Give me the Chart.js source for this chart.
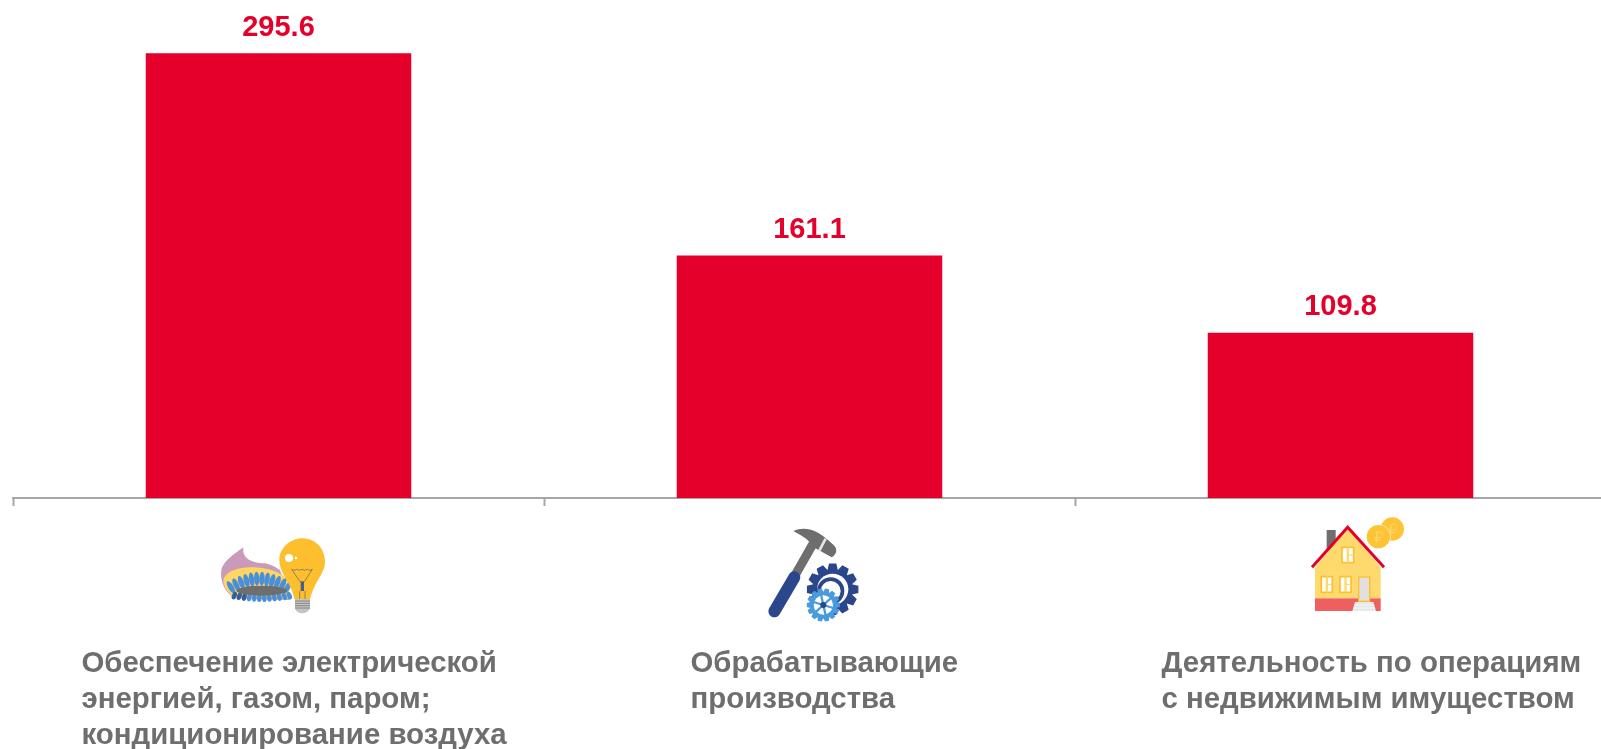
<!DOCTYPE html>
<html lang="ru">
<head>
<meta charset="utf-8">
<title>Chart</title>
<script src="https://cdn.jsdelivr.net/npm/chart.js@4"></script>
<style>
    html, body { margin: 0; padding: 0; background: #fff; overflow: hidden; }
    canvas { display: block; }
</style>
</head>
<body>
<canvas id="barChart" width="1620" height="749"></canvas>
<script>
// Chart data
const categories = [
    ['Обеспечение электрической', 'энергией, газом, паром;', 'кондиционирование воздуха'],
    ['Обрабатывающие', 'производства'],
    ['Деятельность по операциям', 'с недвижимым имуществом']
];
const values = [295.6, 161.1, 109.8];

const RED = '#E4002B';
const TEXT_GRAY = '#6E6E6E';
const AXIS_GRAY = '#A6A6A6';
const FONT = '"Liberation Sans", Arial, sans-serif';

// Left edge of each label block, relative to the centre of its band
const labelOffsets = [-197, -119, -179];

// Helpers for the icons
function fillPath(ctx, color, d) {
    ctx.fillStyle = color;
    ctx.fill(new Path2D(d));
}

function strokeLine(ctx, color, width, x1, y1, x2, y2) {
    ctx.strokeStyle = color;
    ctx.lineWidth = width;
    ctx.beginPath();
    ctx.moveTo(x1, y1);
    ctx.lineTo(x2, y2);
    ctx.stroke();
}

function fillEllipse(ctx, color, x, y, rx, ry, rot = 0) {
    ctx.fillStyle = color;
    ctx.beginPath();
    ctx.ellipse(x, y, rx, ry, rot, 0, Math.PI * 2);
    ctx.fill();
}

function drawGear(ctx, color, x, y, outer, inner, teeth) {
    ctx.fillStyle = color;
    ctx.beginPath();
    const step = Math.PI * 2 / teeth;
    for (let i = 0; i < teeth; i++) {
        const a = i * step;
        [[-0.5, inner], [-0.27, outer], [0.27, outer], [0.5, inner]].forEach(([k, r]) => {
            ctx.lineTo(x + Math.cos(a + k * step) * r, y + Math.sin(a + k * step) * r);
        });
    }
    ctx.closePath();
    ctx.fill();
}

// Gas burner and light bulb
function drawEnergyIcon(ctx) {
    fillPath(ctx, '#C99BB9', 'M85 52 C80 85 110 100 150 100 C175 105 185 115 195 120 L225 210 L60 205 C30 190 12 150 20 115 C30 90 60 70 85 52 Z');
    fillPath(ctx, '#FDD663', 'M25 150 C30 125 70 110 120 112 C160 115 195 125 220 150 L225 205 L60 205 C40 190 25 170 25 150 Z');
    // top row of flames
    for (let i = 0; i < 12; i++) {
        const t = i / 11;
        const px = 48 + t * 170;
        const py = 172 - Math.sin(t * Math.PI) * 26;
        fillEllipse(ctx, '#4A90D9', px, py, 8, 21, (t - 0.5) * 1.1);
    }
    // bottom row of flames
    for (let i = 0; i < 12; i++) {
        const t = i / 11;
        const px = 58 + t * 165;
        fillEllipse(ctx, i < 3 ? '#2F5F9F' : '#4A90D9', px, 197 + Math.sin(t * Math.PI) * 7, 7, 12, (0.5 - t) * 0.8);
    }
    fillEllipse(ctx, '#6E6E6E', 140, 182, 76, 15);
    fillPath(ctx, '#FDBF2D', 'M262 25 C300 25 330 55 330 95 C330 130 300 150 285 207 L238 207 C228 155 193 130 193 90 C193 55 225 25 262 25 Z');
    fillEllipse(ctx, '#FFFFFF', 222, 84, 12, 12);
    fillEllipse(ctx, '#FFFFFF', 243, 84, 4, 4);
    ctx.lineWidth = 2;
    ctx.strokeStyle = '#5F6470';
    ctx.stroke(new Path2D('M230 118 Q238 124 245 118 Q253 124 261 118 Q269 124 277 118 Q285 124 292 118 L268 155 L255 155 Z'));
    strokeLine(ctx, '#4A5C8C', 10, 262, 155, 262, 183);
    strokeLine(ctx, '#5F6470', 2, 254, 183, 254, 207);
    strokeLine(ctx, '#5F6470', 2, 270, 183, 270, 207);
    fillPath(ctx, '#C4C4C4', 'M240 207 L285 207 L285 235 C278 255 245 255 240 235 Z');
    for (let y = 213; y < 240; y += 7) {
        strokeLine(ctx, '#7A7A7A', 2.5, 240, y, 285, y);
    }
}

// Hammer and two gears
function drawIndustryIcon(ctx) {
    ctx.lineCap = 'butt';
    strokeLine(ctx, '#6E6E6E', 27, 400, 295, 460, 190);
    ctx.lineCap = 'round';
    strokeLine(ctx, '#2B478B', 36, 403, 292, 343, 394);
    ctx.lineCap = 'butt';
    fillPath(ctx, '#6E6E6E', 'M400 153 C440 135 480 155 515 190 C535 205 532 222 515 232 L458 200 C445 175 420 165 400 153 Z');
    strokeLine(ctx, '#E6E6E6', 8, 497, 176, 478, 212);
    drawGear(ctx, '#2B478B', 518, 328, 78, 60, 12);
    fillEllipse(ctx, '#FFFFFF', 518, 328, 47, 47);
    fillEllipse(ctx, '#2B478B', 512, 333, 41, 41);
    fillEllipse(ctx, '#FFFFFF', 512, 333, 30, 30);
    drawGear(ctx, '#4A9BDC', 490, 375, 50, 40, 14);
    fillEllipse(ctx, '#FFFFFF', 490, 375, 29, 29);
    for (let i = 0; i < 6; i++) {
        const a = i * Math.PI / 3 + 0.3;
        strokeLine(ctx, '#4A9BDC', 7, 490, 375, 490 + Math.cos(a) * 33, 375 + Math.sin(a) * 33);
    }
    fillEllipse(ctx, '#2B478B', 490, 375, 9, 9);
}

function drawWindow(ctx, x, y, w, h) {
    ctx.fillStyle = '#FFFFFF';
    ctx.strokeStyle = '#FDBF2D';
    ctx.lineWidth = 5;
    ctx.fillRect(x, y, w, h);
    ctx.strokeRect(x, y, w, h);
    strokeLine(ctx, '#FDD96E', 7, x + w / 2, y, x + w / 2, y + h);
    strokeLine(ctx, '#FDD96E', 4, x + w / 2, y + h / 2, x + w, y + h / 2);
}

function drawCoin(ctx, x, y) {
    fillEllipse(ctx, '#FDC436', x, y, 35, 35);
    ctx.strokeStyle = '#FDD96E';
    ctx.lineWidth = 3;
    ctx.stroke(new Path2D(`M${x - 5} ${y + 18} L${x - 5} ${y - 14} L${x + 6} ${y - 14} C${x + 16} ${y - 14} ${x + 16} ${y + 3} ${x + 6} ${y + 3} L${x - 12} ${y + 3} M${x - 12} ${y + 10} L${x + 6} ${y + 10}`));
}

// House and coins
function drawRealtyIcon(ctx) {
    ctx.fillStyle = '#6E6E6E';
    ctx.fillRect(560, 150, 27, 60);
    fillPath(ctx, '#FDD96E', 'M623 145 L722 262 L722 355 L525 355 L525 262 Z');
    ctx.fillStyle = '#EE6060';
    ctx.fillRect(525, 355, 197, 38);
    ctx.strokeStyle = RED;
    ctx.lineWidth = 9;
    ctx.stroke(new Path2D('M516 262 L623 142 L732 262'));
    drawWindow(ctx, 606, 202, 35, 46);
    drawWindow(ctx, 544, 290, 33, 47);
    drawWindow(ctx, 600, 290, 33, 47);
    ctx.fillStyle = '#E0E0E0';
    ctx.strokeStyle = '#FDBF2D';
    ctx.lineWidth = 4;
    ctx.fillRect(656, 291, 33, 73);
    ctx.strokeRect(656, 291, 33, 73);
    fillPath(ctx, '#E8E8E8', 'M645 366 L700 366 L708 393 L637 393 Z');
    strokeLine(ctx, '#FFFFFF', 2, 642, 375, 703, 375);
    strokeLine(ctx, '#FFFFFF', 2, 640, 384, 705, 384);
    drawCoin(ctx, 757, 147);
    ctx.strokeStyle = '#FFFFFF';
    ctx.lineWidth = 2;
    ctx.beginPath();
    ctx.arc(715, 170, 36, 0, Math.PI * 2);
    ctx.stroke();
    drawCoin(ctx, 715, 170);
}

// Icon frames: zoom of the icon and where its frame starts relative to band centre and axis
const icons = [
    { draw: drawEnergyIcon, sx: 3, sy: 3, dx: -63.5, dy: 32 },
    { draw: drawIndustryIcon, sx: 3, sy: 3, dx: -149.5, dy: -18 },
    { draw: drawRealtyIcon, sx: 3, sy: 3, dx: -200.5, dy: -18 }
];

// Value labels above the bars, icons and left-aligned category labels under the axis
const decorPlugin = {
    id: 'decor',
    afterDatasetsDraw(chart) {
        const ctx = chart.ctx;
        const xScale = chart.scales.x;
        const meta = chart.getDatasetMeta(0);

        ctx.save();
        ctx.textBaseline = 'alphabetic';
        ctx.textAlign = 'center';
        ctx.fillStyle = RED;
        ctx.font = 'bold 29px ' + FONT;
        meta.data.forEach((bar, i) => {
            ctx.fillText(values[i].toFixed(1), bar.x, bar.y - 17.5);
        });

        ctx.textAlign = 'left';
        ctx.fillStyle = TEXT_GRAY;
        ctx.font = 'bold 29.4px ' + FONT;
        categories.forEach((lines, i) => {
            const left = xScale.getPixelForTick(i) + labelOffsets[i];
            lines.forEach((line, n) => {
                ctx.fillText(line, left, xScale.top + 174 + n * 36);
            });
        });
        ctx.restore();

        icons.forEach((icon, i) => {
            ctx.save();
            ctx.translate(xScale.getPixelForTick(i) + icon.dx, xScale.top + icon.dy);
            ctx.scale(1 / icon.sx, 1 / icon.sy);
            icon.draw(ctx);
            ctx.restore();
        });
    }
};

// Chart.js setup
const ctx = document.getElementById('barChart').getContext('2d');
new Chart(ctx, {
    type: 'bar',
    data: {
        labels: categories,
        datasets: [{
            data: values,
            backgroundColor: RED,
            borderWidth: 0,
            categoryPercentage: 1,
            barPercentage: 0.5
        }]
    },
    options: {
        responsive: false,
        animation: false,
        layout: { padding: { left: 13, right: 14, top: 0, bottom: 0 } },
        plugins: {
            legend: { display: false },
            tooltip: { enabled: false },
            title: { display: false }
        },
        scales: {
            x: {
                afterFit(scale) { scale.height = 251; },
                border: { color: AXIS_GRAY, width: 2 },
                grid: { drawOnChartArea: false, color: AXIS_GRAY, tickLength: 8, tickWidth: 2, offset: true },
                ticks: { display: false }
            },
            y: {
                display: false,
                min: 0,
                max: 331
            }
        }
    },
    plugins: [decorPlugin]
});
</script>
</body>
</html>
